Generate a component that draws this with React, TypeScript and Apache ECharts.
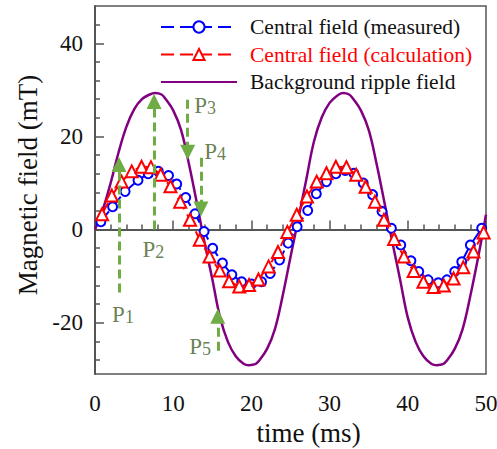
import { useEffect, useRef } from 'react';
import * as echarts from 'echarts';

// Background ripple field (purple)
const rippleTime = [0, 1, 2, 3, 4, 5, 6, 7, 7.7, 8.5, 9, 10, 11, 12, 13, 14, 15, 16, 17, 18, 19, 19.7, 20.5, 21, 22, 23, 24, 25, 26, 27, 28, 29, 30, 31, 31.7, 32.5, 33, 34, 35, 36, 37, 38, 39, 40, 41, 42, 43, 43.7, 44.5, 45, 46, 47, 48, 49, 50];
const rippleField = [0, 4.3, 10.0, 16.5, 22.0, 25.8, 28.0, 29.0, 29.3, 29.0, 28.1, 25.6, 21.4, 14.2, 5.9, -2.7, -10.6, -18.9, -24.1, -27.2, -28.8, -29.1, -28.9, -28.1, -25.6, -21.4, -14.2, -5.9, 2.3, 10.6, 18.9, 24.1, 27.2, 28.8, 29.3, 29.0, 28.1, 25.6, 21.4, 14.2, 5.9, -2.5, -10.6, -18.9, -24.1, -27.2, -28.8, -29.1, -28.9, -28.1, -25.6, -21.4, -14.2, -5.9, 3.2];

// Central field (calculation) - red triangles
const calcTime = [0.9, 2.15, 3.4, 4.7, 5.95, 7.15, 8.4, 9.65, 10.9, 12.15, 13.4, 14.65, 15.95, 17.15, 18.45, 19.7, 20.9, 22.2, 23.4, 24.6, 25.8, 27.1, 28.35, 29.6, 30.8, 32.15, 33.4, 34.6, 35.8, 36.95, 38.25, 39.5, 40.75, 42.0, 43.3, 44.6, 45.85, 47.1, 48.4, 49.7];
const calcField = [3.3, 7.3, 10.3, 12.5, 13.5, 13.4, 11.8, 9.3, 6.0, 2.1, -2.2, -5.8, -8.8, -11.1, -12.2, -11.9, -10.7, -7.9, -4.8, -0.5, 3.2, 7.1, 10.3, 12.1, 13.5, 13.4, 11.8, 9.2, 6.0, 2.1, -2.0, -5.8, -8.9, -11.2, -12.3, -12.0, -10.5, -8.1, -4.7, -0.6];

// Central field (measured) - blue circles
const measTime = [0.75, 2.25, 3.85, 5.5, 6.8, 8.1, 9.4, 10.45, 11.6, 12.8, 13.95, 15.05, 16.3, 17.5, 18.75, 20.0, 21.3, 22.4, 23.6, 24.7, 25.85, 27.2, 28.3, 29.6, 30.8, 32.0, 33.1, 34.3, 35.5, 36.7, 37.9, 39.1, 40.4, 41.4, 42.6, 43.9, 45.0, 46.0, 46.9, 48.0, 49.45];
const measField = [1.7, 4.9, 8.2, 10.6, 12.0, 12.5, 11.6, 9.8, 6.9, 3.4, -0.4, -4.0, -7.2, -9.7, -11.2, -11.7, -11.2, -9.4, -6.5, -2.9, 0.6, 4.1, 7.7, 10.3, 12.0, 12.7, 12.1, 10.0, 7.5, 3.9, 0.3, -3.3, -6.7, -9.0, -10.8, -11.4, -10.8, -9.0, -6.9, -3.3, 0.3];

// Axis ticks
const yMajorTicks = [-20, 0, 20, 40];
const yMinorTicks = [-28, -24, -16, -12, -8, -4, 4, 8, 12, 16, 24, 28, 32, 36, 44];

// Annotation arrows (time, start field, end field) and labels
const arrowNames = ['1', '2', '3', '4', '5'];
const arrowTime = [3.07, 7.55, 11.85, 13.55, 15.7];
const arrowFrom = [-13.5, 0, 27.9, 15.4, -26.0];
const arrowTo = [14.0, 27.5, 16.6, 4.4, -18.6];
const labelTime = [3.58, 7.46, 14.07, 15.35, 13.43];
const labelField = [-16.8, -2.8, 28.0, 18.1, -23.6];

const legendNames = ['Central field (measured)', 'Central field (calculation)', 'Background ripple field'];
const legendColors = ['#111', '#ff0000', '#111'];

const serif = '"Liberation Serif", "Times New Roman", "DejaVu Serif", serif';
const axisColor = '#555';
const green = '#6fac46';
const labelGreen = '#435f26';

export default function App() {
  const ref = useRef<HTMLDivElement>(null);
  useEffect(() => {
    if (!ref.current) return;
    const chart = echarts.init(ref.current, null, { renderer: 'svg' });
    const zip = (a: number[], b: number[]) => a.map((t, i) => [t, b[i]]);
    chart.setOption({
      animation: false,
      backgroundColor: '#fff',
      grid: { left: 95, right: 11, top: 6, bottom: 75, show: true, borderColor: axisColor, borderWidth: 1.5, outerBoundsMode: 'none', containLabel: false },
      legend: legendNames.map((n, i) => ({
        orient: 'vertical',
        left: 155,
        top: 11 + i * 27.5,
        itemWidth: 76,
        itemHeight: 14,
        selectedMode: false,
        textStyle: { fontFamily: serif, fontSize: 21.5, lineHeight: 20, padding: [0, 0, 0, 8], color: legendColors[i] },
        data: [i === 2 ? { name: n, itemStyle: { opacity: 0 } } : { name: n }],
      })),
      xAxis: {
        type: 'value',
        min: 0,
        max: 50,
        interval: 10,
        name: 'time (ms)',
        nameLocation: 'middle',
        nameGap: 45,
        nameTextStyle: { fontFamily: serif, fontSize: 27, color: '#111', padding: [0, 0, 0, 36] },
        axisLine: { lineStyle: { color: axisColor, width: 2 } },
        axisTick: { inside: true, length: 9, lineStyle: { color: axisColor, width: 1.5 } },
        minorTick: { show: true, splitNumber: 5, length: 5, lineStyle: { color: axisColor, width: 1.5 } },
        axisLabel: { fontFamily: serif, fontSize: 23, color: '#111', margin: 18 },
        splitLine: { show: false },
      },
      yAxis: [
        {
          type: 'value',
          min: -31,
          max: 48,
          name: 'Magnetic field (mT)',
          nameLocation: 'middle',
          nameGap: 54,
          nameTextStyle: { fontFamily: serif, fontSize: 27, color: '#111', padding: [0, 0, 0, 10] },
          axisLine: { show: true, lineStyle: { color: axisColor, width: 2 } },
          axisTick: { show: true, inside: true, length: 9, customValues: yMajorTicks, lineStyle: { color: axisColor, width: 1.5 } },
          axisLabel: { fontFamily: serif, fontSize: 23, color: '#111', margin: 12, customValues: yMajorTicks },
          splitLine: { show: false },
        },
        {
          type: 'value',
          min: -31,
          max: 48,
          position: 'left',
          axisLine: { show: false },
          axisTick: { show: true, inside: true, length: 5, customValues: yMinorTicks, lineStyle: { color: axisColor, width: 1.5 } },
          axisLabel: { show: false },
          splitLine: { show: false },
        },
      ],
      series: [
        {
          name: 'Background ripple field',
          type: 'line',
          data: zip(rippleTime, rippleField),
          smooth: 0.4,
          showSymbol: false,
          symbol: 'none',
          lineStyle: { color: '#800080', width: 2.5 },
          itemStyle: { color: '#800080' },
          z: 2,
        },
        {
          name: 'Central field (measured)',
          type: 'line',
          data: zip(measTime, measField),
          symbol: 'emptyCircle',
          symbolSize: 9,
          itemStyle: { color: '#0000ff', borderWidth: 1.3 },
          lineStyle: { color: '#0000ff', width: 2, type: [13, 6] },
          z: 3,
        },
        {
          name: 'Central field (calculation)',
          type: 'line',
          data: zip(calcTime, calcField),
          symbol: 'emptyTriangle',
          symbolSize: 12,
          itemStyle: { color: '#ff0000', borderWidth: 2 },
          lineStyle: { color: '#ff0000', width: 2, type: [13, 6] },
          z: 4,
        },
        {
          name: 'arrows',
          type: 'line',
          data: [],
          silent: true,
          markLine: {
            silent: true,
            symbol: ['none', 'triangle'],
            symbolSize: 15,
            label: { show: false },
            lineStyle: { color: green, width: 3, type: [9, 5] },
            itemStyle: { color: green },
            emphasis: { disabled: true },
            data: arrowTime.map((t, i) => [
              { coord: [t, arrowFrom[i]], symbol: 'none' },
              { coord: [t, arrowTo[i]], symbol: 'triangle' },
            ]),
          },
          z: 5,
        },
        {
          name: 'labels',
          type: 'scatter',
          symbolSize: 0,
          silent: true,
          data: arrowNames.map((n, i) => ({ name: n, value: [labelTime[i], labelField[i]] })),
          label: {
            show: true,
            position: 'inside',
            formatter: (p: any) => `{p|P}{s|${p.name}}`,
            rich: {
              p: { fontFamily: serif, fontSize: 23, color: labelGreen, lineHeight: 22, verticalAlign: 'bottom' },
              s: { fontFamily: serif, fontSize: 18, color: labelGreen, lineHeight: 36, verticalAlign: 'bottom' },
            },
          },
          z: 6,
        },
      ],
    });
    return () => chart.dispose();
  }, []);
  return <div ref={ref} style={{ width: 497, height: 449, position: 'absolute', left: 0, top: 0 }} />;
}
